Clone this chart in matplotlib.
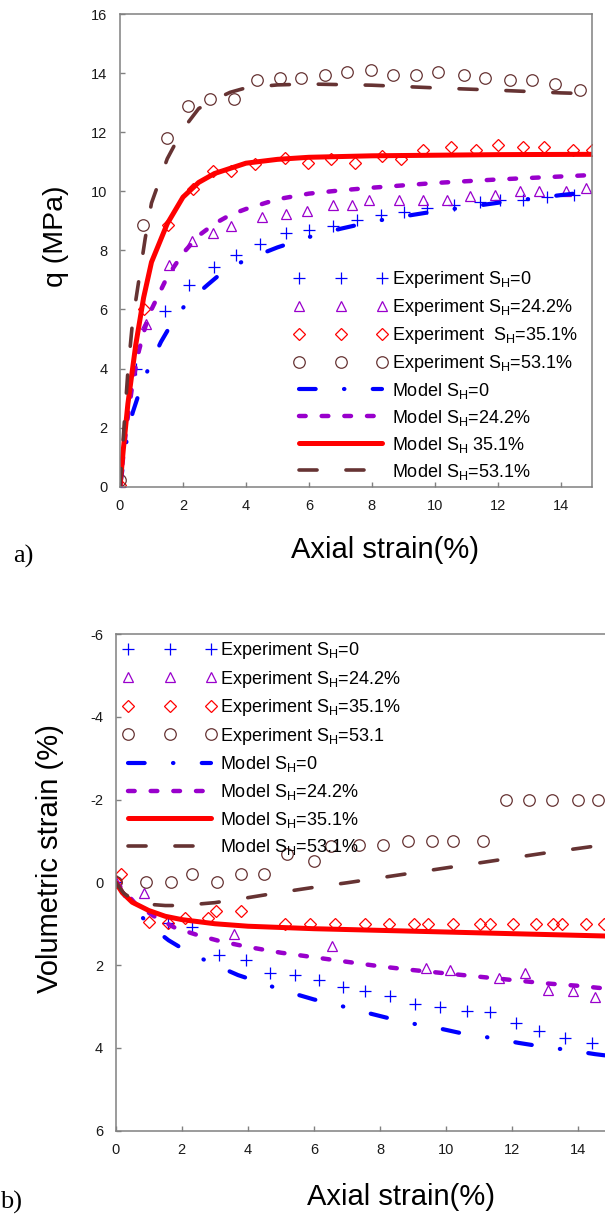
import numpy as np
import matplotlib
matplotlib.use("Agg")
import matplotlib.pyplot as plt

plt.rcParams['font.family'] = ['Liberation Sans', 'DejaVu Sans']
plt.rcParams['mathtext.default'] = 'regular'
plt.rcParams['axes.unicode_minus'] = False

# colours
BLUE = '#0000ff'
PURPLE = '#9900cc'
RED = '#ff0000'
BROWN = '#663333'

# ---------------- panel a) deviator stress q ----------------
exp0_x = [0, 0.51, 1.44, 2.18, 2.97, 3.67, 4.46, 5.26, 5.99, 6.75, 7.52, 8.29, 9.02, 9.76, 10.61, 11.42, 12.08, 12.79, 13.57, 14.43]
exp0_q = [0, 4.0, 5.95, 6.84, 7.44, 7.85, 8.23, 8.60, 8.68, 8.81, 9.02, 9.19, 9.29, 9.45, 9.53, 9.63, 9.69, 9.72, 9.81, 9.86]

exp24_x = [0, 0.83, 1.55, 2.30, 2.96, 3.52, 4.52, 5.26, 5.93, 6.75, 7.36, 7.92, 8.86, 9.61, 10.39, 11.10, 11.91, 12.71, 13.30, 14.18, 14.79]
exp24_q = [0, 5.52, 7.49, 8.32, 8.59, 8.84, 9.12, 9.23, 9.32, 9.55, 9.55, 9.72, 9.72, 9.72, 9.72, 9.83, 9.86, 10.0, 10.0, 10.0, 10.11]

exp35_x = [0, 0.76, 1.52, 2.32, 2.95, 3.51, 4.30, 5.23, 5.97, 6.71, 7.46, 8.33, 8.94, 9.61, 10.50, 11.32, 11.99, 12.79, 13.48, 14.40, 15.0]
exp35_q = [0.05, 6.01, 8.87, 10.09, 10.68, 10.68, 10.92, 11.13, 10.96, 11.10, 10.96, 11.21, 11.10, 11.39, 11.50, 11.38, 11.58, 11.50, 11.50, 11.38, 11.38]

exp53_x = [0, 0.73, 1.49, 2.16, 2.85, 3.63, 4.34, 5.07, 5.76, 6.52, 7.22, 7.96, 8.66, 9.39, 10.11, 10.92, 11.59, 12.38, 13.09, 13.81, 14.61]
exp53_q = [0.23, 8.87, 11.81, 12.90, 13.12, 13.12, 13.75, 13.82, 13.82, 13.93, 14.03, 14.12, 13.92, 13.92, 14.03, 13.92, 13.82, 13.75, 13.75, 13.64, 13.42]

mod0_x = [0, 0.2, 0.4, 0.6, 0.9, 1.3, 1.6, 2.1, 2.8, 3.3, 4, 5, 6, 7, 8, 9, 10, 11, 12, 13, 14, 15]
mod0_q = [0, 1.5, 2.5, 3.15, 4.0, 4.9, 5.45, 6.2, 6.85, 7.3, 7.68, 8.1, 8.45, 8.73, 8.97, 9.15, 9.32, 9.46, 9.61, 9.74, 9.87, 9.99]

mod24_x = [0, 0.2, 0.4, 0.6, 0.8, 1.0, 1.5, 2.0, 2.5, 3.0, 3.5, 4.0, 5, 6, 7, 8, 10, 12, 14, 15]
mod24_q = [0, 2.0, 3.5, 4.6, 5.4, 6.0, 7.1, 7.9, 8.5, 8.9, 9.2, 9.4, 9.73, 9.92, 10.03, 10.12, 10.28, 10.4, 10.5, 10.55]

mod35_x = [0, 0.1, 0.25, 0.5, 0.75, 1.0, 1.5, 2.0, 2.5, 3.0, 4.0, 5, 6, 8, 10, 12, 15]
mod35_q = [0, 1.2, 2.8, 4.8, 6.4, 7.6, 8.9, 9.8, 10.3, 10.6, 10.95, 11.08, 11.15, 11.2, 11.22, 11.24, 11.25]

mod53_x = [0, 0.1, 0.25, 0.4, 0.6, 0.8, 1.0, 1.5, 2.0, 2.5, 3.0, 3.5, 4.0, 5, 6, 8, 10, 12, 14, 15]
mod53_q = [0, 1.6, 3.9, 5.6, 7.0, 8.4, 9.6, 11.1, 12.1, 12.8, 13.1, 13.35, 13.5, 13.6, 13.63, 13.59, 13.5, 13.42, 13.33, 13.3]

# ---------------- panel b) volumetric strain ----------------
vexp0_x = [0, 1.58, 2.30, 3.13, 3.93, 4.67, 5.43, 6.15, 6.88, 7.54, 8.31, 9.04, 9.80, 10.62, 11.32, 12.11, 12.81, 13.59, 14.41]
vexp0_v = [0, 0.99, 1.07, 1.75, 1.88, 2.18, 2.24, 2.36, 2.54, 2.63, 2.75, 2.93, 3.01, 3.10, 3.13, 3.41, 3.59, 3.77, 3.88]

vexp24_x = [0, 0.85, 3.58, 6.53, 9.39, 10.12, 11.61, 12.39, 13.09, 13.83, 14.50]
vexp24_v = [0, 0.26, 1.25, 1.54, 2.08, 2.12, 2.30, 2.19, 2.60, 2.63, 2.78]

vexp35_x = [0, 0.15, 1.0, 1.58, 2.1, 2.8, 3.03, 3.78, 5.13, 5.89, 6.63, 7.53, 8.28, 9.02, 9.45, 10.21, 11.03, 11.32, 12.02, 12.72, 13.24, 13.51, 14.24, 14.76]
vexp35_v = [0, -0.21, 0.97, 0.99, 0.86, 0.86, 0.70, 0.70, 1.0, 1.0, 1.0, 1.0, 1.0, 1.0, 1.0, 1.0, 1.0, 1.0, 1.0, 1.0, 1.0, 1.0, 1.0, 1.0]

vexp53_x = [0, 0.93, 1.67, 2.30, 3.05, 3.78, 4.50, 5.19, 6.01, 6.51, 7.35, 8.09, 8.84, 9.58, 10.21, 11.11, 11.80, 12.50, 13.19, 14.0, 14.59]
vexp53_v = [0, 0.0, 0.0, -0.2, 0.0, -0.2, -0.2, -0.69, -0.51, -0.88, -0.91, -0.91, -1.01, -1.01, -1.01, -1.01, -2.0, -2.0, -2.0, -2.0, -2.0]

vmod0_x = [0, 0.3, 0.6, 0.9, 1.2, 1.6, 2.1, 2.9, 3.7, 4.3, 5.1, 6.0, 6.6, 7.5, 8.3, 8.9, 9.8, 10.6, 11.3, 12.2, 13.0, 13.6, 14.5, 15]
vmod0_v = [0, 0.35, 0.66, 0.93, 1.15, 1.4, 1.64, 1.96, 2.24, 2.40, 2.62, 2.83, 2.94, 3.13, 3.29, 3.40, 3.53, 3.67, 3.75, 3.88, 3.98, 4.04, 4.15, 4.2]

vmod24_x = [0, 0.25, 0.6, 1.2, 1.8, 2.5, 3.2, 4, 5, 6, 7, 8, 9, 10, 11, 12, 13, 14, 15]
vmod24_v = [0, 0.2, 0.52, 0.84, 1.1, 1.28, 1.43, 1.56, 1.7, 1.81, 1.92, 2.03, 2.12, 2.2, 2.28, 2.36, 2.44, 2.5, 2.58]

vmod35_x = [0, 0.2, 0.5, 1, 1.5, 2, 3, 4, 5, 6, 8, 10, 12, 14, 15]
vmod35_v = [0, 0.25, 0.48, 0.68, 0.82, 0.9, 1.0, 1.06, 1.09, 1.12, 1.16, 1.2, 1.24, 1.28, 1.3]

vmod53_x = [0, 0.25, 0.6, 1.0, 1.5, 2.0, 3, 4, 5, 6, 7, 8, 9, 10, 11, 12, 13, 14, 15]
vmod53_v = [0, 0.27, 0.45, 0.53, 0.56, 0.56, 0.49, 0.37, 0.24, 0.12, 0.01, -0.11, -0.23, -0.35, -0.47, -0.59, -0.71, -0.82, -0.93]

labels_a = ['Experiment S$_H$=0', 'Experiment S$_H$=24.2%', 'Experiment  S$_H$=35.1%',
            'Experiment S$_H$=53.1%', 'Model S$_H$=0', 'Model S$_H$=24.2%',
            'Model S$_H$ 35.1%', 'Model S$_H$=53.1%']
labels_b = ['Experiment S$_H$=0', 'Experiment S$_H$=24.2%', 'Experiment S$_H$=35.1%',
            'Experiment S$_H$=53.1', 'Model S$_H$=0', 'Model S$_H$=24.2%',
            'Model S$_H$=35.1%', 'Model S$_H$=53.1%']

W, H = 605, 1226
fig = plt.figure(figsize=(W / 100, H / 100), dpi=100)


def px_axes(l, t, r, b):
    return fig.add_axes([l / W, 1 - b / H, (r - l) / W, (b - t) / H])


def draw(ax, data, labels):
    (e0, e24, e35, e53, m0, m24, m35, m53) = data
    ms = dict(linestyle='none', markerfacecolor='none', markeredgewidth=0.9)
    ax.plot(*e0, marker='+', color=BLUE, markersize=9, label=labels[0], **ms)
    ax.plot(*e24, marker='^', color=PURPLE, markersize=7.5, label=labels[1], **ms)
    ax.plot(*e35, marker='D', color=RED, markersize=6, label=labels[2], **ms)
    ax.plot(*e53, marker='o', color=BROWN, markersize=8.3, label=labels[3], **ms)
    ax.plot(*m0, color=BLUE, lw=3.0, dashes=(4, 6.8, 0.1, 6.8),
            dash_capstyle='round', label=labels[4])
    ax.plot(*m24, color=PURPLE, lw=3.2, dashes=(1.5, 3.6),
            dash_capstyle='round', label=labels[5])
    ax.plot(*m35, color=RED, lw=3.6, solid_capstyle='round', label=labels[6])
    ax.plot(*m53, color=BROWN, lw=2.6, dashes=(5, 8),
            dash_capstyle='round', label=labels[7])
    for s in ax.spines.values():
        s.set_color('#808080')
        s.set_linewidth(1.1)
    ax.tick_params(direction='in', length=3.5, width=1, color='#808080',
                   labelsize=10.5, pad=9, labelcolor='#1a1a1a')
    ax.set_xlim(0, 15)
    ax.set_xticks(np.arange(0, 15, 2))


# panel a
ax1 = px_axes(120, 14, 592.3, 486.7)
draw(ax1, [(exp0_x, exp0_q), (exp24_x, exp24_q), (exp35_x, exp35_q), (exp53_x, exp53_q),
           (mod0_x, mod0_q), (mod24_x, mod24_q), (mod35_x, mod35_q), (mod53_x, mod53_q)],
     labels_a)
ax1.set_ylim(0, 16)
ax1.set_yticks(np.arange(0, 17, 2))
ax1.set_ylabel('q (MPa)', fontsize=20.5, va='center')
ax1.yaxis.set_label_coords(-0.1355, 0.53)
ax1.set_xlabel('Axial strain(%)', fontsize=21, va='center')
ax1.xaxis.set_label_coords(0.561, -0.134)
ax1.legend(loc='upper left', bbox_to_anchor=(294 / W, 1 - 269 / H),
           bbox_transform=fig.transFigure, frameon=False, fontsize=13,
           numpoints=3, handlelength=5.2, handletextpad=0.2,
           labelspacing=0.385, borderpad=0, borderaxespad=0)

# panel b
ax2 = px_axes(115.7, 634, 611.5, 1130.7)
draw(ax2, [(vexp0_x, vexp0_v), (vexp24_x, vexp24_v), (vexp35_x, vexp35_v), (vexp53_x, vexp53_v),
           (vmod0_x, vmod0_v), (vmod24_x, vmod24_v), (vmod35_x, vmod35_v), (vmod53_x, vmod53_v)],
     labels_b)
ax2.set_ylim(6, -6)
ax2.set_yticks(np.arange(-6, 7, 2))
ax2.set_ylabel('Volumetric strain (%)', fontsize=21, va='center')
ax2.yaxis.set_label_coords(-0.1335, 0.547)
ax2.set_xlabel('Axial strain(%)', fontsize=21, va='center')
ax2.xaxis.set_label_coords(0.575, -0.1335)
ax2.legend(loc='upper left', bbox_to_anchor=(123 / W, 1 - 640 / H),
           bbox_transform=fig.transFigure, frameon=False, fontsize=13,
           numpoints=3, handlelength=5.2, handletextpad=0.2,
           labelspacing=0.42, borderpad=0, borderaxespad=0)

fig.text(13.5 / W, 1 - 556 / H, 'a)', family='Liberation Serif', fontsize=19,
         va='center', ha='left')
fig.text(0.5 / W, 1 - 1202 / H, 'b)', family='Liberation Serif', fontsize=19,
         va='center', ha='left')

fig.savefig('out.png', dpi=100)
